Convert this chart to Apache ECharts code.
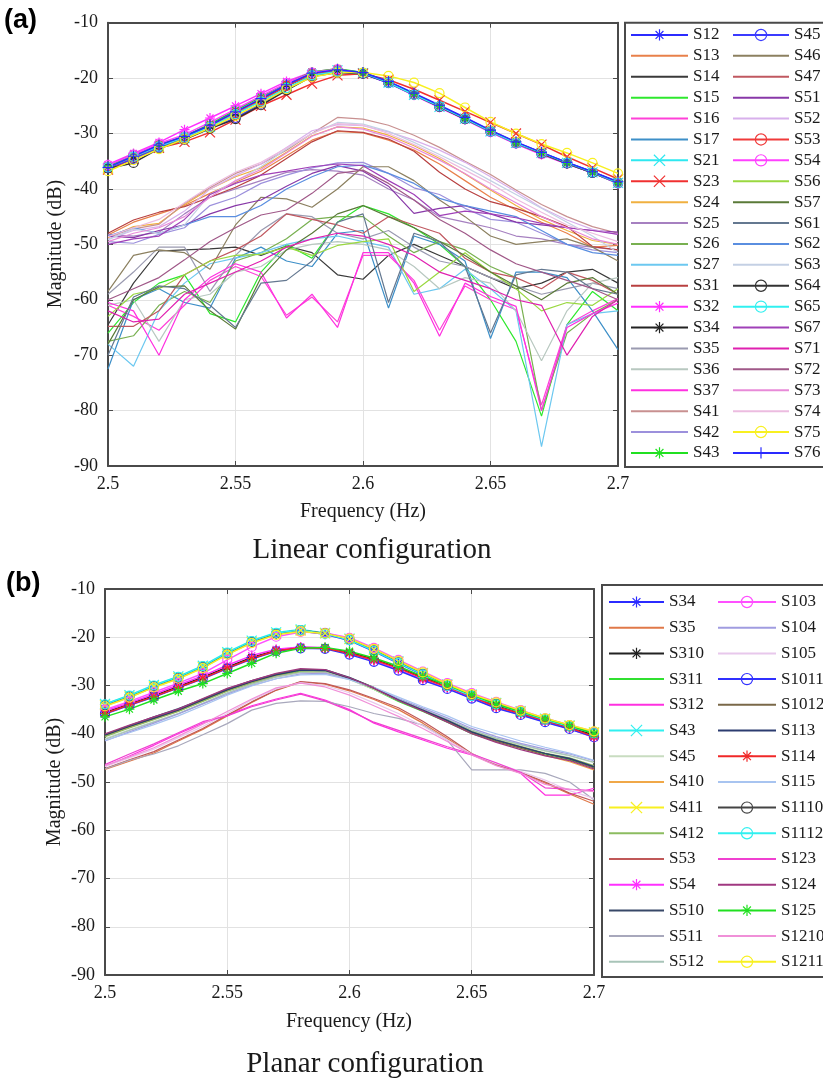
<!DOCTYPE html>
<html>
<head>
<meta charset="utf-8">
<script src="https://cdn.jsdelivr.net/npm/echarts@6.0.0/dist/echarts.min.js"></script>
<style>
  html, body { margin: 0; padding: 0; background: #ffffff; }
  #chartA { position: absolute; left: 0; top: 0; width: 823px; height: 570px; }
  #chartB { position: absolute; left: 0; top: 570px; width: 823px; height: 512px; }
</style>
</head>
<body>
<div id="chartA"></div>
<div id="chartB"></div>
<script>
// Frequency samples (Hz) shared by both panels
const freq = [2.50, 2.51, 2.52, 2.53, 2.54, 2.55, 2.56, 2.57, 2.58, 2.59, 2.60,
              2.61, 2.62, 2.63, 2.64, 2.65, 2.66, 2.67, 2.68, 2.69, 2.70];
const freqTicks = [2.5, 2.55, 2.6, 2.65, 2.7];
const magTicks = [-90, -80, -70, -60, -50, -40, -30, -20, -10];

// ---------- (a) Linear configuration: magnitude (dB) per path ----------
const a_S12 = [-36, -34.2, -32.2, -30.6, -28.6, -26.2, -23.8, -21.3, -19.2, -18.5, -19, -20.7, -22.8, -25, -27.2, -29.5, -31.6, -33.4, -35.2, -36.9, -38.8];
const a_S13 = [-48.3, -46, -44.5, -43, -40.8, -38.8, -36.8, -34, -31.2, -29.6, -29.9, -31.2, -33, -35.5, -38.5, -41.5, -43.8, -46, -48, -50.5, -50.2];
const a_S14 = [-64.5, -57, -51.2, -51, -50.8, -50.5, -52, -50.3, -51.5, -55.5, -56.3, -52, -50, -52, -54, -56, -58, -57, -55, -54.5, -57];
const a_S15 = [-66, -60.5, -57, -55.5, -62.5, -64, -55, -50, -52.5, -46, -43, -44.5, -47, -50, -54, -60, -67.5, -81, -64.5, -58.5, -62];
const a_S16 = [-61, -63, -65.5, -61, -56.5, -54, -55.8, -62.8, -59.5, -64, -52, -52, -56.5, -65.5, -57.5, -60, -61.8, -79, -64.5, -62, -59.8];
const a_S17 = [-72.5, -60, -58, -60.5, -61.5, -52.5, -50.5, -53, -54, -48, -47.5, -61.5, -48.5, -50, -53, -67, -55, -55, -56, -62, -69];
const a_S21 = [-36.2, -34.4, -32.4, -30.8, -28.8, -26.4, -24, -21.5, -19.4, -18.6, -19.1, -20.8, -23, -25.2, -27.3, -29.6, -31.7, -33.5, -35.3, -37, -38.9];
const a_S23 = [-36.5, -34.6, -32.6, -31.5, -29.8, -27.5, -25, -23, -21, -19.5, -19.2, -20.3, -22, -24, -26, -28, -30, -32, -34.2, -36.2, -38.2];
const a_S24 = [-48.8, -46.8, -46.2, -42.8, -40, -37.8, -36.2, -33.4, -30.4, -28.8, -29, -30.3, -32.2, -34.5, -37.3, -40.2, -43, -45.5, -47.5, -49.3, -50];
const a_S25 = [-48.2, -48.5, -47.8, -44.5, -41.5, -40, -38.5, -37, -36.5, -36.8, -37.5, -40, -42, -45, -46, -47, -48.5, -49, -50, -50.5, -51];
const a_S26 = [-67.5, -66.5, -61, -58.5, -60.5, -53, -51.5, -49, -45.5, -45, -45, -48.5, -51.5, -49.5, -51, -54, -56, -80, -66, -62.5, -60];
const a_S27 = [-68, -72, -62, -57, -53.5, -52.5, -51.5, -50, -49, -48.5, -49.5, -50.5, -59, -58, -54.5, -58, -62, -86.5, -64.5, -62.5, -62];
const a_S31 = [-48, -45.6, -44.2, -43.2, -41.5, -39.7, -37.5, -34.5, -31.5, -29.5, -29.8, -31, -33.2, -37, -40, -42.3, -43.5, -45, -46.8, -50.4, -51];
const a_S32 = [-35.6, -33.6, -31.6, -29.3, -27.2, -25, -22.8, -20.6, -18.9, -18.3, -19.2, -20.9, -23.1, -25.3, -27.5, -29.8, -31.9, -33.8, -35.5, -37.1, -39];
const a_S34 = [-36, -34.3, -32.3, -30.7, -28.7, -26.3, -23.9, -21.4, -19.3, -18.6, -19.1, -20.8, -22.9, -25.1, -27.3, -29.6, -31.7, -33.5, -35.3, -37, -38.9];
const a_S35 = [-59, -55, -50.5, -50.5, -58.5, -52, -47.5, -44.5, -45, -48, -49, -47.5, -50.5, -53, -54, -56, -57.5, -59, -58, -57, -58];
const a_S36 = [-61, -60, -67.5, -60, -59, -55, -54, -51, -50, -49.5, -50, -51, -54, -58, -56, -57, -62, -71, -62, -57, -56];
const a_S37 = [-60.5, -62, -70, -60, -56, -53.5, -55, -63.3, -59, -65, -51.5, -51.5, -57, -66.6, -57, -59.4, -61.2, -80, -65, -62.5, -60.6];
const a_S41 = [-48.6, -47.2, -46.4, -42.6, -39.8, -37.2, -35.5, -33, -30, -27.1, -27.4, -28.5, -30.3, -32.5, -35, -37.4, -40.2, -42.8, -45, -46.8, -48];
const a_S42 = [-49.5, -49.8, -48.2, -47, -43, -41.5, -39, -37.5, -36.2, -35.3, -35.2, -37.2, -39.8, -41, -43.5, -45.5, -46, -48, -50, -51, -51.5];
const a_S43 = [-35.9, -33.8, -32, -30.5, -28.3, -25.8, -23.4, -21, -18.9, -18.3, -19, -20.7, -22.9, -25.1, -27.4, -29.6, -31.8, -33.6, -35.4, -37.1, -39];
const a_S45 = [-36.2, -34.6, -32.5, -31, -29, -27.2, -24.6, -22, -19.6, -18.9, -19.2, -20.9, -23, -25.2, -27.4, -29.7, -31.8, -33.6, -35.4, -37.1, -39];
const a_S46 = [-58.5, -52, -51, -51.5, -54.5, -46.5, -41.5, -41.8, -43.3, -40, -36, -36, -38.5, -42, -45, -48.5, -50, -49.5, -49, -50.5, -53];
const a_S47 = [-64.8, -64.8, -62, -55.5, -53, -51, -48.5, -44.5, -45.5, -46.5, -48, -45, -46.5, -48, -52.5, -55, -56, -58, -55, -56.5, -59];
const a_S51 = [-48.5, -48.8, -47.5, -46.5, -44.5, -43, -42, -39.5, -37.2, -35.8, -36.8, -39.5, -44.4, -43.5, -43, -44.5, -46, -46.5, -47, -47.5, -47.8];
const a_S52 = [-49, -47.5, -46.8, -44, -40, -37.6, -35.5, -32.5, -29.5, -28.4, -28.6, -29.7, -31.2, -33, -35.2, -37.8, -40.5, -43.4, -45.6, -47.3, -48.2];
const a_S53 = [-36.1, -34.3, -32.2, -30.7, -28.7, -26.3, -24, -21.4, -19.3, -18.6, -19.1, -20.7, -22.9, -25.1, -27.3, -29.5, -31.6, -33.5, -35.3, -37, -38.8];
const a_S54 = [-35.7, -33.8, -31.8, -30.2, -28, -25.6, -23.2, -20.9, -19, -18.4, -19.1, -20.8, -23, -25.2, -27.4, -29.7, -31.8, -33.7, -35.4, -37.1, -39];
const a_S56 = [-63, -59, -58, -55.5, -53, -52, -51.8, -50.5, -52, -50.2, -49.5, -49, -58.5, -55, -51.5, -55, -58, -62, -60.5, -61, -58];
const a_S57 = [-68, -60, -57.7, -57.5, -62, -65.3, -56, -51, -48, -44.5, -43, -45, -47, -49.5, -52, -55, -57.5, -60, -57, -56, -59];
const a_S61 = [-70, -59.5, -57.5, -58, -61, -65, -57, -56.5, -53, -46, -44.5, -60.5, -48, -49.5, -54, -66, -55.5, -54.5, -55, -58, -59];
const a_S62 = [-48.5, -47, -48, -46.5, -45, -45, -43, -40, -37.8, -36, -35.7, -37.2, -39, -41.7, -43, -44, -45, -47.5, -50, -51.5, -52];
const a_S63 = [-49.2, -47.2, -48, -46.5, -41, -38.6, -36, -32.8, -30, -28, -28.3, -29.6, -31.6, -33.8, -36, -38.5, -41, -43.5, -46, -48.5, -51.5];
const a_S64 = [-36.3, -35.3, -32.7, -31.1, -29.1, -27.4, -24.9, -22.2, -19.7, -19, -19.2, -20.8, -23, -25.2, -27.4, -29.6, -31.7, -33.6, -35.4, -37.1, -38.9];
const a_S65 = [-36.1, -34.2, -32.3, -30.7, -28.8, -26.5, -24.2, -21.8, -19.5, -18.8, -19.1, -20.8, -23, -25.1, -27.3, -29.6, -31.7, -33.5, -35.3, -37, -38.9];
const a_S67 = [-50, -49, -48.5, -45.5, -41, -39, -37.5, -36.8, -36, -35.5, -35.8, -38.5, -41, -44.8, -44, -44.5, -45.2, -46.2, -47, -47.5, -48.2];
const a_S71 = [-62, -64, -63.5, -59, -57, -55, -53, -50.5, -49, -48, -48.5, -50, -52, -55, -56.5, -58, -60, -61, -70, -63, -60];
const a_S72 = [-60, -58, -56, -52.8, -49.5, -47, -44.7, -43.8, -40.8, -37.2, -36.6, -39, -42, -45.5, -48, -51, -53.5, -55, -56.5, -58, -60];
const a_S73 = [-49.5, -48, -47, -45, -41.5, -38.5, -36.5, -33.5, -30.5, -28.8, -29.2, -30.6, -32.6, -34.8, -37.2, -40, -42.5, -45, -47, -49, -50];
const a_S74 = [-48.6, -47, -45.5, -42.5, -39.5, -37, -35.2, -32.6, -30, -28.2, -28.5, -30, -32, -34.2, -36.6, -39, -41.8, -44.2, -46.5, -48, -49.5];
const a_S75 = [-36.8, -34.8, -32.8, -31, -29, -26.8, -24.5, -22, -19.8, -19, -19, -19.6, -20.8, -22.7, -25.3, -27.9, -30, -31.9, -33.5, -35.3, -37.2];
const a_S76 = [-36.1, -34.1, -32.1, -30.5, -28.5, -26.1, -23.7, -21.2, -19.1, -18.5, -19, -20.6, -22.7, -24.9, -27.1, -29.4, -31.5, -33.4, -35.2, -36.9, -38.7];

const seriesA = [
  ['S12', a_S12], ['S13', a_S13], ['S14', a_S14], ['S15', a_S15], ['S16', a_S16], ['S17', a_S17],
  ['S21', a_S21], ['S23', a_S23], ['S24', a_S24], ['S25', a_S25], ['S26', a_S26], ['S27', a_S27],
  ['S31', a_S31], ['S32', a_S32], ['S34', a_S34], ['S35', a_S35], ['S36', a_S36], ['S37', a_S37],
  ['S41', a_S41], ['S42', a_S42], ['S43', a_S43],
  ['S45', a_S45], ['S46', a_S46], ['S47', a_S47], ['S51', a_S51], ['S52', a_S52], ['S53', a_S53],
  ['S54', a_S54], ['S56', a_S56], ['S57', a_S57], ['S61', a_S61], ['S62', a_S62], ['S63', a_S63],
  ['S64', a_S64], ['S65', a_S65], ['S67', a_S67], ['S71', a_S71], ['S72', a_S72], ['S73', a_S73],
  ['S74', a_S74], ['S75', a_S75], ['S76', a_S76]
];

// ---------- (b) Planar configuration: magnitude (dB) per path ----------
const b_S34 = [-34.2, -32.4, -30.3, -28.5, -26.3, -23.5, -21.1, -19.4, -18.7, -19.4, -20.7, -22.9, -25.4, -27.8, -30.2, -32.3, -34, -35.6, -37.2, -38.6, -40];
const b_S35 = [-47.4, -45.7, -44, -41.5, -39.1, -36.3, -33.5, -31, -29.3, -29.7, -31.1, -32.9, -35, -37.8, -41, -44.3, -46.5, -48.1, -50.2, -52.5, -54.6];
const b_S310 = [-35.6, -33.8, -32.1, -30.2, -28.3, -26.2, -24.2, -22.7, -22.1, -22.2, -23.1, -24.5, -26.3, -28.3, -30.1, -32.1, -34.1, -35.6, -37.1, -38.6, -40.3];
const b_S311 = [-40.5, -38.6, -36.9, -35.2, -33.1, -31, -29.3, -27.9, -27, -27.1, -28.7, -30.8, -33.3, -35.4, -37.6, -40, -41.6, -43, -44.2, -45.3, -47];
const b_S312 = [-46.8, -44.6, -42.4, -40, -37.8, -36.2, -34.2, -32.8, -31.6, -33, -35, -37.8, -39.6, -41.3, -43, -44.4, -46.2, -48.2, -52.7, -52.7, -51.3];
const b_S43 = [-33.8, -32, -29.9, -28.1, -25.9, -23.1, -20.7, -19, -18.4, -19.1, -20.3, -22.5, -25, -27.4, -29.8, -31.9, -33.6, -35.3, -36.9, -38.3, -39.7];
const b_S45 = [-41, -39.2, -37.5, -35.8, -33.8, -31.6, -29.8, -28.3, -27.3, -27.3, -28.8, -30.8, -33.1, -35.2, -37.2, -39.4, -41, -42.3, -43.6, -44.6, -46];
const b_S410 = [-40.4, -38.7, -37, -35.3, -33.2, -31.1, -29.4, -28, -27.2, -27.2, -28.6, -30.6, -33, -35.2, -37.4, -39.8, -41.5, -42.9, -44.5, -45.8, -47.5];
const b_S411 = [-34.1, -32.3, -30.2, -28.4, -26.2, -23.4, -21, -19.3, -18.6, -19.2, -20.4, -22.6, -25.1, -27.5, -29.9, -32, -33.7, -35.4, -37, -38.4, -39.8];
const b_S412 = [-40.6, -38.8, -37.1, -35.4, -33.3, -31.2, -29.5, -28.1, -27.1, -27, -28.4, -30.4, -32.9, -35, -37.1, -39.5, -41.2, -42.6, -44, -45, -46.6];
const b_S53 = [-47.2, -45.4, -43.7, -41.3, -38.9, -36.1, -33.4, -30.9, -29.2, -29.6, -30.9, -32.7, -34.6, -37.4, -40.6, -44.1, -46.4, -48, -50, -52.3, -54];
const b_S54 = [-35.3, -33.6, -31.8, -29.9, -28, -25.8, -23.8, -22.5, -22, -22.2, -23.4, -24.9, -26.7, -28.8, -30.6, -32.6, -34.6, -36, -37.5, -38.9, -40.8];
const b_S510 = [-40.2, -38.3, -36.5, -34.8, -32.8, -30.7, -29, -27.6, -26.7, -26.7, -28.3, -30.4, -32.9, -35.1, -37.3, -39.7, -41.4, -42.8, -44.1, -45.2, -46.9];
const b_S511 = [-47.3, -45.5, -44.2, -42.5, -40.2, -37.9, -35.1, -33.7, -33.2, -33.3, -34.4, -35.8, -36.8, -38.2, -41.3, -47.5, -47.5, -47.5, -48.2, -50, -53.7];
const b_S512 = [-41.2, -39.3, -37.6, -35.8, -33.7, -31.5, -29.7, -28.2, -27.3, -27.2, -28.6, -30.6, -33, -35, -37, -39.2, -40.9, -42.2, -43.5, -44.5, -45.9];
const b_S103 = [-35, -33.3, -31.4, -29.5, -27.5, -24.7, -22, -19.9, -18.9, -19.1, -20.1, -22.2, -24.7, -27.1, -29.5, -31.6, -33.4, -35.1, -36.8, -38.2, -39.6];
const b_S104 = [-41.5, -39.6, -37.8, -35.9, -33.8, -31.8, -30, -28.6, -27.6, -27.5, -28.7, -30.5, -32.7, -34.7, -36.7, -38.9, -40.6, -42, -43.2, -44.2, -45.6];
const b_S105 = [-46.8, -45, -43.2, -40.8, -38.5, -35.8, -33, -30.7, -29.4, -30, -31.5, -33.6, -35.8, -38.4, -41.3, -44.2, -46.2, -47.8, -49.6, -51.8, -53.4];
const b_S1011 = [-35.9, -34.1, -32.4, -30.5, -28.6, -26.5, -24.5, -22.9, -22.3, -22.4, -23.6, -25.1, -26.9, -28.9, -30.7, -32.7, -34.7, -36.1, -37.6, -39, -40.7];
const b_S1012 = [-40.1, -38.4, -36.7, -35, -32.9, -30.8, -29.1, -27.7, -26.7, -26.8, -28.5, -30.6, -33.1, -35.3, -37.5, -39.9, -41.6, -43, -44.4, -45.5, -47.1];
const b_S113 = [-40.3, -38.5, -36.8, -35.1, -33, -30.9, -29.2, -27.8, -26.8, -26.9, -28.5, -30.5, -33, -35.1, -37.2, -39.6, -41.3, -42.7, -44.1, -45.1, -46.8];
const b_S114 = [-35.8, -34, -32.3, -30.4, -28.5, -26.4, -24.4, -22.8, -22.2, -22.3, -23.3, -24.7, -26.4, -28.5, -30.3, -32.3, -34.4, -35.8, -37.3, -38.7, -40.6];
const b_S115 = [-41.4, -39.8, -38.1, -36.3, -34.2, -32, -30.1, -28.6, -27.8, -27.7, -28.8, -30.4, -32.4, -34.4, -36.3, -38.5, -40, -41.5, -42.8, -44, -45.5];
const b_S1110 = [-34, -32.2, -30.1, -28.3, -26.1, -23.3, -20.9, -19.2, -18.5, -19.2, -20.5, -22.7, -25.2, -27.6, -30, -32.1, -33.8, -35.5, -37.1, -38.5, -39.9];
const b_S1112 = [-33.9, -32.1, -30, -28.2, -26, -23.2, -20.8, -19.1, -18.5, -19.3, -20.6, -22.8, -25.3, -27.7, -30.1, -32.2, -33.9, -35.5, -37.1, -38.5, -39.9];
const b_S123 = [-46.4, -44.2, -42.1, -39.8, -37.5, -36.3, -34.4, -33, -31.8, -33.2, -35.2, -37.6, -39.3, -41, -42.7, -44.2, -46, -48, -51.2, -51.5, -51.8];
const b_S124 = [-40, -38.2, -36.5, -34.9, -32.7, -30.6, -29, -27.5, -26.5, -26.7, -28.4, -30.5, -33.1, -35.3, -37.6, -40, -41.8, -43.3, -44.6, -45.6, -47.3];
const b_S125 = [-36.5, -34.9, -33, -31.2, -29.6, -27.5, -25.4, -23.3, -22.3, -22.1, -22.9, -24.3, -26, -28.1, -29.9, -31.9, -33.9, -35.4, -36.9, -38.3, -40];
const b_S1210 = [-46.6, -44.8, -42.9, -40.5, -38, -35.4, -32.8, -30.5, -29.5, -30.3, -32, -34.2, -36.4, -38.9, -41.6, -44.4, -46.6, -48.2, -50.5, -51.5, -52];
const b_S1211 = [-34.3, -32.5, -30.4, -28.6, -26.4, -23.6, -21.2, -19.5, -18.8, -19.2, -20.3, -22.4, -24.9, -27.3, -29.7, -31.8, -33.5, -35.2, -36.8, -38.2, -39.5];

const seriesB = [
  ['S34', b_S34], ['S35', b_S35], ['S310', b_S310], ['S311', b_S311], ['S312', b_S312],
  ['S43', b_S43], ['S45', b_S45], ['S410', b_S410], ['S411', b_S411], ['S412', b_S412],
  ['S53', b_S53], ['S54', b_S54], ['S510', b_S510], ['S511', b_S511], ['S512', b_S512],
  ['S103', b_S103], ['S104', b_S104], ['S105', b_S105], ['S1011', b_S1011], ['S1012', b_S1012],
  ['S113', b_S113], ['S114', b_S114], ['S115', b_S115], ['S1110', b_S1110], ['S1112', b_S1112],
  ['S123', b_S123], ['S124', b_S124], ['S125', b_S125], ['S1210', b_S1210], ['S1211', b_S1211]
];

// ---------- line colours and marker kinds ----------
const styleA = {
  S12: ['#2b2bff', '*'], S13: ['#e8804a'], S14: ['#3a3a3a'], S15: ['#2ee82e'], S16: ['#ff40d8'],
  S17: ['#3d8fc8'], S21: ['#2ee8f0', 'x'], S23: ['#f03030', 'x'], S24: ['#f0b040'], S25: ['#a680c0'],
  S26: ['#78b050'], S27: ['#6cc8f0'], S31: ['#b84040'], S32: ['#ff30ff', '*'], S34: ['#222222', '*'],
  S35: ['#9a9ab0'], S36: ['#b8c8c0'], S37: ['#ff30e0'], S41: ['#c89090'], S42: ['#9c90dc'],
  S43: ['#20e020', '*'], S45: ['#3b3bff', 'o'], S46: ['#8c8060'], S47: ['#c05860'], S51: ['#8838a8'],
  S52: ['#d8b0ec'], S53: ['#f03a3a', 'o'], S54: ['#ff40ff', 'o'], S56: ['#9ad840'], S57: ['#5a7a38'],
  S61: ['#647890'], S62: ['#5a8ee0'], S63: ['#c4d0e4'], S64: ['#333333', 'o'], S65: ['#30f0f0', 'o'],
  S67: ['#a040b8'], S71: ['#e020b0'], S72: ['#a05888'], S73: ['#e88ad8'], S74: ['#ecbce0'],
  S75: ['#f8f020', 'o'], S76: ['#2a2aff', '+']
};
const styleB = {
  S34: ['#2b2bff', '*'], S35: ['#e07848'], S310: ['#222222', '*'], S311: ['#30e030'], S312: ['#ff30e0'],
  S43: ['#30f0f0', 'x'], S45: ['#c8dcc0'], S410: ['#f0a848'], S411: ['#f8f020', 'x'], S412: ['#8cbc60'],
  S53: ['#c05858'], S54: ['#ff30ff', '*'], S510: ['#384868'], S511: ['#a8a8bc'], S512: ['#a8c4b8'],
  S103: ['#ff50ff', 'o'], S104: ['#a09ce0'], S105: ['#e8c8ec'], S1011: ['#3030ff', 'o'], S1012: ['#7a6848'],
  S113: ['#2c3c70'], S114: ['#f02828', '*'], S115: ['#a8c4f0'], S1110: ['#444444', 'o'], S1112: ['#30f0f0', 'o'],
  S123: ['#f040d0'], S124: ['#a03880'], S125: ['#20e020', '*'], S1210: ['#f090d8'], S1211: ['#f8f020', 'o']
};

const SERIF = '"Liberation Serif", "Times New Roman", serif';
const SANS = '"Liberation Sans", Arial, sans-serif';
const AXIS_COLOR = '#4a4a4a';
const TEXT_COLOR = '#1a1a1a';
const CLEAR = 'rgba(0,0,0,0)';

function markerSymbol(kind) {
  if (kind === 'o') return 'circle';
  if (kind === '*') return 'path://M0,-5L0,5M-5,0L5,0M-3.5,-3.5L3.5,3.5M-3.5,3.5L3.5,-3.5';
  if (kind === 'x') return 'path://M-4,-4L4,4M-4,4L4,-4';
  if (kind === '+') return 'path://M0,-5L0,5M-5,0L5,0';
  return 'none';
}

function buildSeries(list, styles) {
  const lines = list.map(([name, vals]) => {
    const [color, mark] = styles[name];
    const hasMark = !!mark;
    return {
      name: name,
      type: 'line',
      xAxisIndex: 0,
      yAxisIndex: 0,
      data: freq.map((f, i) => [f, vals[i]]),
      symbol: markerSymbol(mark),
      symbolSize: mark === 'o' ? 9 : (mark === '+' ? 11 : 10),
      showSymbol: hasMark,
      lineStyle: { color: color, width: hasMark ? 1.5 : 1.2 },
      itemStyle: {
        color: mark === 'o' ? CLEAR : color,
        borderColor: color,
        borderWidth: 1.2
      },
      z: hasMark ? 4 : 2,
      silent: true,
      animation: false
    };
  });
  // marked curves drawn above the plain ones
  return lines.filter(s => s.z === 2).concat(lines.filter(s => s.z === 4));
}

function buildAxes() {
  const xc = {
    type: 'value', min: 2.5, max: 2.7, interval: 0.05,
    axisLine: { show: true, onZero: false, lineStyle: { color: AXIS_COLOR, width: 2 } },
    axisTick: { show: true, inside: true, length: 5, lineStyle: { color: AXIS_COLOR, width: 1 } },
    silent: true
  };
  const yc = {
    type: 'value', min: -90, max: -10, interval: 10,
    axisLine: { show: true, onZero: false, lineStyle: { color: AXIS_COLOR, width: 2 } },
    axisTick: { show: true, inside: true, length: 5, lineStyle: { color: AXIS_COLOR, width: 1 } },
    silent: true
  };
  return {
    xAxis: [
      Object.assign({}, xc, {
        position: 'bottom',
        splitLine: { show: true, lineStyle: { color: '#e2e2e2', width: 1 } },
        axisLabel: {
          show: true, margin: 9, color: TEXT_COLOR, fontFamily: SERIF, fontSize: 18,
          formatter: v => {
            const t = freqTicks.find(k => Math.abs(k - v) < 1e-6);
            return t === undefined ? '' : String(t);
          }
        }
      }),
      Object.assign({}, xc, { position: 'top', splitLine: { show: false }, axisLabel: { show: false } })
    ],
    yAxis: [
      Object.assign({}, yc, {
        position: 'left',
        splitLine: { show: true, lineStyle: { color: '#e2e2e2', width: 1 } },
        axisLabel: {
          show: true, margin: 10, color: TEXT_COLOR, fontFamily: SERIF, fontSize: 18,
          formatter: v => {
            const t = magTicks.find(k => Math.abs(k - v) < 1e-6);
            return t === undefined ? '' : String(t);
          }
        }
      }),
      Object.assign({}, yc, { position: 'right', splitLine: { show: false }, axisLabel: { show: false } })
    ]
  };
}

// Legend entries: curves without markers show only their line sample
function legendItems(names, styles) {
  return names.map(n => styles[n][1]
    ? { name: n }
    : { name: n, itemStyle: { color: CLEAR, borderColor: CLEAR, borderWidth: 0, opacity: 0 } });
}

function legendColumn(items, left, top, itemWidth, rowHeight) {
  return {
    data: items,
    orient: 'vertical',
    left: left,
    top: top,
    padding: 0,
    itemGap: 0,
    itemWidth: itemWidth,
    itemHeight: 14,
    selectedMode: false,
    itemStyle: { borderWidth: 1.2 },
    textStyle: { fontFamily: SERIF, fontSize: 17, lineHeight: rowHeight, color: TEXT_COLOR }
  };
}

function textEl(text, x, y, size, opts) {
  return Object.assign({
    type: 'text', x: x, y: y, silent: true,
    style: Object.assign({
      text: text, fontFamily: SERIF, fontSize: size, fill: TEXT_COLOR,
      align: 'center', verticalAlign: 'middle'
    }, (opts && opts.style) || {})
  }, (opts && opts.el) || {});
}

// ---------- panel (a) ----------
const namesA = seriesA.map(s => s[0]);
const chartA = echarts.init(document.getElementById('chartA'), null, { renderer: 'canvas' });
const axesA = buildAxes();
chartA.setOption({
  animation: false,
  backgroundColor: '#ffffff',
  grid: { left: 108, top: 22.7, width: 510, height: 443.3, containLabel: false, outerBoundsMode: 'none' },
  xAxis: axesA.xAxis,
  yAxis: axesA.yAxis,
  legend: [
    legendColumn(legendItems(namesA.slice(0, 21), styleA), 630, 24.5, 57, 20.9),
    legendColumn(legendItems(namesA.slice(21), styleA), 732, 24.5, 56, 20.9)
  ],
  graphic: [
    { type: 'rect', silent: true, shape: { x: 625, y: 22.7, width: 210, height: 444.3 },
      style: { fill: 'none', stroke: AXIS_COLOR, lineWidth: 2 } },
    textEl('(a)', 4, 21, 27, { style: { fontFamily: SANS, fontWeight: 'bold', align: 'left', fill: '#000' } }),
    textEl('Magnitude (dB)', 56, 244, 20, { el: { rotation: Math.PI / 2 } }),
    textEl('Frequency (Hz)', 363, 511.5, 20),
    textEl('Linear configuration', 372, 550, 29)
  ],
  series: buildSeries(seriesA, styleA)
});

// ---------- panel (b) ----------
const namesB = seriesB.map(s => s[0]);
const chartB = echarts.init(document.getElementById('chartB'), null, { renderer: 'canvas' });
const axesB = buildAxes();
chartB.setOption({
  animation: false,
  backgroundColor: '#ffffff',
  grid: { left: 105, top: 19, width: 489, height: 386, containLabel: false, outerBoundsMode: 'none' },
  xAxis: axesB.xAxis,
  yAxis: axesB.yAxis,
  legend: [
    legendColumn(legendItems(namesB.slice(0, 15), styleB), 608, 19.15, 55, 25.7),
    legendColumn(legendItems(namesB.slice(15), styleB), 717, 19.15, 58, 25.7)
  ],
  graphic: [
    { type: 'rect', silent: true, shape: { x: 602, y: 15, width: 230, height: 392 },
      style: { fill: 'none', stroke: AXIS_COLOR, lineWidth: 2 } },
    textEl('(b)', 6, 14, 27, { style: { fontFamily: SANS, fontWeight: 'bold', align: 'left', fill: '#000' } }),
    textEl('Magnitude (dB)', 55, 212, 20, { el: { rotation: Math.PI / 2 } }),
    textEl('Frequency (Hz)', 349, 451.5, 20),
    textEl('Planar configuration', 365, 494, 29)
  ],
  series: buildSeries(seriesB, styleB)
});
</script>
</body>
</html>
